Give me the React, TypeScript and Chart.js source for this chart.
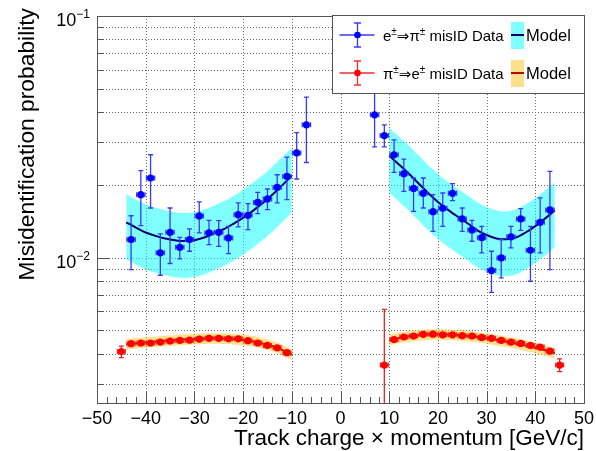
import React, { useEffect, useRef } from 'react';
import { Chart, registerables } from 'chart.js';
Chart.register(...registerables);

const FONT = '"Liberation Sans", Arimo, Helvetica, Arial, "DejaVu Sans", sans-serif';

// ---- blue: e -> pi misID data ----
const blueX = [-43, -41, -39, -37, -35, -33, -31, -29, -27, -25, -23, -21, -19, -17, -15, -13, -11, -9, -7,
  7, 9, 11, 13, 15, 17, 19, 21, 23, 25, 27, 29, 31, 33, 35, 37, 39, 41, 43];
const blueY = [0.01187, 0.01821, 0.02135, 0.01046, 0.01272, 0.01103, 0.01187, 0.01487, 0.01265, 0.01272, 0.01206, 0.01505, 0.01496, 0.01692, 0.01748, 0.01952, 0.02168, 0.0271, 0.03545,
  0.039, 0.032, 0.02664, 0.02224, 0.01933, 0.01844, 0.01549, 0.01599, 0.01844, 0.01445, 0.01302, 0.01209, 0.00884, 0.00997, 0.01218, 0.01445, 0.01072, 0.01399, 0.01575];
const blueLo = [0.00892, 0.01356, 0.01604, 0.00845, 0.00945, 0.00988, 0.01062, 0.01265, 0.01131, 0.01113, 0.01039, 0.01339, 0.01305, 0.0152, 0.01579, 0.01683, 0.01736, 0.02115, 0.02475,
  0.0287, 0.0287, 0.02253, 0.01879, 0.01553, 0.01604, 0.01284, 0.01347, 0.0172, 0.01284, 0.01168, 0.01046, 0.00717, 0.00824, 0.01097, 0.01297, 0.00798, 0.01046, 0.00892];
const blueHi = [0.0149, 0.0229, 0.02664, 0.01253, 0.01604, 0.01213, 0.01314, 0.01699, 0.01426, 0.01422, 0.01347, 0.01683, 0.01671, 0.01861, 0.01922, 0.02202, 0.02607, 0.03292, 0.04612,
  0.0481, 0.03545, 0.03073, 0.02558, 0.02135, 0.02135, 0.01821, 0.0185, 0.02022, 0.01604, 0.01426, 0.01347, 0.01062, 0.01187, 0.01347, 0.01594, 0.01347, 0.01765, 0.02275];

// ---- red: pi -> e misID data ----
const redX = [-45, -43, -41, -39, -37, -35, -33, -31, -29, -27, -25, -23, -21, -19, -17, -15, -13, -11,
  9, 11, 13, 15, 17, 19, 21, 23, 25, 27, 29, 31, 33, 35, 37, 39, 41, 43, 45];
const redY = [0.00408, 0.0044, 0.00443, 0.00443, 0.00447, 0.00451, 0.00454, 0.00455, 0.0046, 0.00463, 0.00463, 0.00461, 0.00461, 0.00453, 0.00443, 0.00433, 0.00423, 0.00404,
  0.00359, 0.00458, 0.00469, 0.00473, 0.00481, 0.00482, 0.00479, 0.00479, 0.00475, 0.00473, 0.00467, 0.00463, 0.00454, 0.00447, 0.00441, 0.00433, 0.00426, 0.0041, 0.00359];
const redLo = [0.00385, 0.00433, 0.00436, 0.00436, 0.0044, 0.00444, 0.00447, 0.00448, 0.00453, 0.00456, 0.00456, 0.00454, 0.00454, 0.00446, 0.00436, 0.00426, 0.00416, 0.00396,
  0.001, 0.00451, 0.00462, 0.00466, 0.00474, 0.00475, 0.00472, 0.00472, 0.00468, 0.00466, 0.0046, 0.00456, 0.00447, 0.0044, 0.00434, 0.00426, 0.00419, 0.00403, 0.00337];
const redHi = [0.0043, 0.00447, 0.0045, 0.0045, 0.00454, 0.00458, 0.00461, 0.00462, 0.00467, 0.0047, 0.0047, 0.00468, 0.00468, 0.0046, 0.0045, 0.0044, 0.0043, 0.00412,
  0.0061, 0.00465, 0.00476, 0.0048, 0.00488, 0.00489, 0.00486, 0.00486, 0.00482, 0.0048, 0.00474, 0.0047, 0.00461, 0.00454, 0.00448, 0.0044, 0.00433, 0.00417, 0.00381];

// ---- model curves ----
const modelXL = [-44, -42, -40, -38, -36, -34, -32, -30, -28, -26, -24, -22, -20, -18, -16, -14, -12, -10];
const modelXR = [10, 12, 14, 16, 18, 20, 22, 24, 26, 28, 30, 32, 34, 36, 38, 40, 42, 44];

const blueModelL = [0.014, 0.0133, 0.0127, 0.0123, 0.012, 0.0118, 0.0117, 0.0118, 0.0121, 0.0126, 0.0131, 0.0138, 0.0146, 0.0156, 0.0168, 0.0182, 0.0199, 0.0218];
const blueBandHiL = [0.0183, 0.0174, 0.0166, 0.0161, 0.0157, 0.0154, 0.0153, 0.0154, 0.0158, 0.0164, 0.0171, 0.018, 0.0191, 0.0204, 0.0219, 0.0238, 0.026, 0.0284];
const blueBandLoL = [0.00984, 0.00935, 0.00893, 0.00865, 0.00844, 0.0083, 0.00823, 0.0083, 0.00851, 0.00886, 0.00921, 0.0097, 0.01026, 0.01097, 0.01181, 0.01279, 0.01399, 0.01533];
const blueModelR = [0.0264, 0.0243, 0.0223, 0.0203, 0.0185, 0.017, 0.0158, 0.0148, 0.0139, 0.013, 0.0124, 0.012, 0.0119, 0.0121, 0.0127, 0.0135, 0.0145, 0.0157];
const blueBandHiR = [0.0345, 0.0317, 0.0291, 0.0265, 0.0241, 0.0222, 0.0206, 0.0193, 0.0181, 0.017, 0.0162, 0.0157, 0.0155, 0.0158, 0.0166, 0.0176, 0.0189, 0.0205];
const blueBandLoR = [0.01856, 0.01708, 0.01568, 0.01427, 0.01301, 0.01195, 0.01111, 0.0104, 0.00977, 0.00914, 0.00872, 0.00844, 0.00837, 0.00851, 0.00893, 0.00949, 0.01019, 0.01104];

const redModelL = [0.00438, 0.00442, 0.00445, 0.00448, 0.00452, 0.00455, 0.00458, 0.0046, 0.00462, 0.00463, 0.00462, 0.0046, 0.00456, 0.0045, 0.00441, 0.0043, 0.00415, 0.00396];
const redBandHiL = [0.0046, 0.00464, 0.00467, 0.0047, 0.00475, 0.00478, 0.00481, 0.00483, 0.00485, 0.00486, 0.00485, 0.00483, 0.00479, 0.00473, 0.00463, 0.00452, 0.00436, 0.00416];
const redBandLoL = [0.00416, 0.0042, 0.00423, 0.00426, 0.00429, 0.00432, 0.00435, 0.00437, 0.00439, 0.0044, 0.00439, 0.00437, 0.00433, 0.00428, 0.00419, 0.00409, 0.00394, 0.00376];
const redModelR = [0.00456, 0.00465, 0.00472, 0.00477, 0.0048, 0.00481, 0.0048, 0.00478, 0.00474, 0.00469, 0.00463, 0.00456, 0.00449, 0.00441, 0.00432, 0.00423, 0.00413, 0.00402];
const redBandHiR = [0.00479, 0.00488, 0.00496, 0.00501, 0.00504, 0.00505, 0.00504, 0.00502, 0.00498, 0.00492, 0.00486, 0.00479, 0.00471, 0.00463, 0.00454, 0.00444, 0.00434, 0.00422];
const redBandLoR = [0.00433, 0.00442, 0.00448, 0.00453, 0.00456, 0.00457, 0.00456, 0.00454, 0.0045, 0.00446, 0.0044, 0.00433, 0.00427, 0.00419, 0.0041, 0.00402, 0.00392, 0.00382];

// ---- axis ticks ----
const xMajorTicks = [-50, -40, -30, -20, -10, 0, 10, 20, 30, 40, 50];
const yGridValues = [0.003, 0.004, 0.005, 0.006, 0.007, 0.008, 0.009, 0.01, 0.02, 0.03, 0.04, 0.05, 0.06, 0.07, 0.08, 0.09];
const yMajorLabels = [{ v: 0.1, base: '10', exp: '\u22121' }, { v: 0.01, base: '10', exp: '\u22122' }];

const XTITLE = 'Track charge \u00d7 momentum [GeV/c]';
const YTITLE = 'Misidentification probability';

const BLUE = '#0000ff';
const BLUE_ERR = '#3a3af5';
const NAVY = '#00006e';
const RED = '#ff0000';
const DARKRED = '#c80000';
const CYAN = 'rgba(0,255,255,0.5)';
const ORANGE = 'rgba(249,194,24,0.5)';

type Seg = { t: string; sup?: boolean };

function drawRich(ctx: CanvasRenderingContext2D, segs: Seg[], x: number, y: number, size: number, align: 'left' | 'right' | 'center') {
  const supSize = Math.round(size * 0.68);
  const widths = segs.map(s => {
    ctx.font = `${s.sup ? supSize : size}px ${FONT}`;
    return ctx.measureText(s.t).width;
  });
  const total = widths.reduce((a, b) => a + b, 0);
  let cx = align === 'left' ? x : align === 'right' ? x - total : x - total / 2;
  ctx.textAlign = 'left';
  ctx.textBaseline = 'alphabetic';
  segs.forEach((s, i) => {
    ctx.font = `${s.sup ? supSize : size}px ${FONT}`;
    ctx.fillText(s.t, cx, s.sup ? y - size * 0.42 : y);
    cx += widths[i];
  });
}

const gridPlugin = {
  id: 'rootGrid',
  beforeDatasetsDraw(chart: any) {
    const { ctx, chartArea: a, scales } = chart;
    const xs = scales.x, ys = scales.y;
    ctx.save();
    ctx.strokeStyle = '#6a6a6a';
    ctx.lineWidth = 1;
    ctx.setLineDash([1, 2]);
    xMajorTicks.forEach(v => {
      if (v === -50 || v === 50) return;
      const px = Math.round(xs.getPixelForValue(v)) + 0.5;
      ctx.beginPath(); ctx.moveTo(px, a.top); ctx.lineTo(px, a.bottom); ctx.stroke();
    });
    yGridValues.forEach(v => {
      const py = Math.round(ys.getPixelForValue(v)) + 0.5;
      ctx.beginPath(); ctx.moveTo(a.left, py); ctx.lineTo(a.right, py); ctx.stroke();
    });
    ctx.restore();
  },
};

const errorBarPlugin = {
  id: 'errBars',
  beforeDatasetDraw(chart: any, args: any) {
    const ds = chart.data.datasets[args.index] as any;
    if (!ds.errLo) return;
    const { ctx, chartArea: a, scales } = chart;
    const xs = scales.x, ys = scales.y;
    ctx.save();
    ctx.beginPath();
    ctx.rect(a.left, a.top, a.right - a.left, a.bottom - a.top);
    ctx.clip();
    ctx.strokeStyle = ds.errColor;
    ctx.lineWidth = 1.3;
    ds.data.forEach((p: any, i: number) => {
      const px = xs.getPixelForValue(p.x);
      const py = ys.getPixelForValue(p.y);
      const lo = ys.getPixelForValue(ds.errLo[i]);
      const hi = ys.getPixelForValue(ds.errHi[i]);
      const xl = xs.getPixelForValue(p.x - ds.xErr);
      const xr = xs.getPixelForValue(p.x + ds.xErr);
      ctx.beginPath();
      ctx.moveTo(px, lo); ctx.lineTo(px, hi);
      ctx.moveTo(px - 2.5, lo); ctx.lineTo(px + 2.5, lo);
      ctx.moveTo(px - 2.5, hi); ctx.lineTo(px + 2.5, hi);
      ctx.moveTo(xl, py); ctx.lineTo(xr, py);
      ctx.moveTo(xl, py - 2.5); ctx.lineTo(xl, py + 2.5);
      ctx.moveTo(xr, py - 2.5); ctx.lineTo(xr, py + 2.5);
      ctx.stroke();
    });
    ctx.restore();
  },
};

function legendErr(ctx: CanvasRenderingContext2D, cx: number, cy: number, color: string, dot: string) {
  ctx.strokeStyle = color;
  ctx.lineWidth = 1.3;
  ctx.beginPath();
  ctx.moveTo(cx - 18, cy); ctx.lineTo(cx + 17, cy);
  ctx.moveTo(cx, cy - 12); ctx.lineTo(cx, cy + 12);
  ctx.moveTo(cx - 3.5, cy - 12); ctx.lineTo(cx + 3.5, cy - 12);
  ctx.moveTo(cx - 3.5, cy + 12); ctx.lineTo(cx + 3.5, cy + 12);
  ctx.stroke();
  ctx.fillStyle = dot;
  ctx.beginPath(); ctx.arc(cx, cy, 3.3, 0, Math.PI * 2); ctx.fill();
}

const axesPlugin = {
  id: 'rootAxes',
  afterDatasetsDraw(chart: any) {
    const { ctx, chartArea: a, scales } = chart;
    const xs = scales.x, ys = scales.y;
    ctx.save();
    // frame
    ctx.strokeStyle = '#555555';
    ctx.lineWidth = 1;
    ctx.setLineDash([]);
    ctx.strokeRect(Math.round(a.left) + 0.5, Math.round(a.top) + 0.5, Math.round(a.right - a.left), Math.round(a.bottom - a.top));
    // x ticks
    ctx.beginPath();
    for (let v = -50; v <= 50; v += 2) {
      const px = Math.round(xs.getPixelForValue(v)) + 0.5;
      const len = v % 10 === 0 ? 11 : 6;
      ctx.moveTo(px, a.bottom); ctx.lineTo(px, a.bottom - len);
    }
    // y ticks
    yGridValues.forEach(v => {
      const py = Math.round(ys.getPixelForValue(v)) + 0.5;
      const len = v === 0.01 ? 13 : 7;
      ctx.moveTo(a.left, py); ctx.lineTo(a.left + len, py);
    });
    ctx.stroke();

    ctx.fillStyle = '#000000';
    // x tick labels
    ctx.font = `18px ${FONT}`;
    ctx.textAlign = 'center';
    ctx.textBaseline = 'alphabetic';
    xMajorTicks.forEach(v => {
      const label = v < 0 ? '\u2212' + Math.abs(v) : String(v);
      ctx.fillText(label, xs.getPixelForValue(v), a.bottom + 21);
    });
    // y tick labels
    yMajorLabels.forEach(l => {
      const py = ys.getPixelForValue(l.v);
      drawRich(ctx, [{ t: l.base }, { t: l.exp, sup: true }], a.left - 7, py + 10, 18, 'right');
    });
    // x title
    ctx.font = `22.5px ${FONT}`;
    ctx.textAlign = 'right';
    ctx.fillText(XTITLE, a.right, 445);
    // y title
    ctx.save();
    ctx.translate(33.5, 8);
    ctx.rotate(-Math.PI / 2);
    ctx.textAlign = 'right';
    ctx.font = `22.8px ${FONT}`;
    ctx.fillText(YTITLE, 0, 0);
    ctx.restore();

    // legend
    const L = 332, T = 15, R = a.right, B = 93;
    ctx.fillStyle = '#ffffff';
    ctx.fillRect(L, T, R - L, B - T);
    ctx.strokeStyle = '#555555';
    ctx.lineWidth = 1;
    ctx.strokeRect(L + 0.5, T + 0.5, R - L, B - T);

    legendErr(ctx, 357.5, 35, BLUE_ERR, BLUE);
    legendErr(ctx, 357.5, 73, '#f03030', RED);
    ctx.fillStyle = '#000000';
    drawRich(ctx, [{ t: 'e' }, { t: '\u00b1', sup: true }, { t: '\u21d2\u03c0' }, { t: '\u00b1', sup: true }, { t: ' misID Data' }], 383, 41, 15, 'left');
    drawRich(ctx, [{ t: '\u03c0' }, { t: '\u00b1', sup: true }, { t: '\u21d2e' }, { t: '\u00b1', sup: true }, { t: ' misID Data' }], 383, 79, 15, 'left');

    ctx.fillStyle = '#80ffff';
    ctx.fillRect(511, 22, 13, 27);
    ctx.fillStyle = '#fce08b';
    ctx.fillRect(511, 60, 13, 27);
    ctx.lineWidth = 2;
    ctx.strokeStyle = NAVY;
    ctx.beginPath(); ctx.moveTo(511, 35); ctx.lineTo(524, 35); ctx.stroke();
    ctx.strokeStyle = DARKRED;
    ctx.beginPath(); ctx.moveTo(511, 73); ctx.lineTo(524, 73); ctx.stroke();
    ctx.fillStyle = '#000000';
    ctx.font = `16.5px ${FONT}`;
    ctx.textAlign = 'left';
    ctx.fillText('Model', 526, 41);
    ctx.fillText('Model', 526, 79);
    ctx.restore();
  },
};

const pts = (xs: number[], ys: number[]) => xs.map((x, i) => ({ x, y: ys[i] }));

function bandPair(xs: number[], lo: number[], hi: number[], color: string) {
  return [
    { data: pts(xs, lo), borderWidth: 0, pointRadius: 0, fill: false, order: 3, tension: 0.3 },
    { data: pts(xs, hi), borderWidth: 0, pointRadius: 0, fill: '-1', backgroundColor: color, order: 3, tension: 0.3 },
  ];
}

function modelLine(xs: number[], ys: number[], color: string) {
  return { data: pts(xs, ys), borderColor: color, borderWidth: 2, pointRadius: 0, fill: false, order: 2, tension: 0.3 };
}

export default function App() {
  const ref = useRef<HTMLCanvasElement>(null);
  useEffect(() => {
    if (!ref.current) return;
    const datasets: any[] = [
      ...bandPair(modelXL, blueBandLoL, blueBandHiL, CYAN),
      ...bandPair(modelXR, blueBandLoR, blueBandHiR, CYAN),
      ...bandPair(modelXL, redBandLoL, redBandHiL, ORANGE),
      ...bandPair(modelXR, redBandLoR, redBandHiR, ORANGE),
      modelLine(modelXL, blueModelL, NAVY),
      modelLine(modelXR, blueModelR, NAVY),
      modelLine(modelXL, redModelL, DARKRED),
      modelLine(modelXR, redModelR, DARKRED),
      {
        data: pts(blueX, blueY), showLine: false, pointRadius: 3.6, pointBackgroundColor: BLUE, pointBorderWidth: 0,
        order: 1, errLo: blueLo, errHi: blueHi, errColor: BLUE_ERR, xErr: 0.85,
      },
      {
        data: pts(redX, redY), showLine: false, pointRadius: 3.6, pointBackgroundColor: RED, pointBorderWidth: 0,
        order: 1, errLo: redLo, errHi: redHi, errColor: '#f02020', xErr: 0.8,
      },
    ];
    const chart = new Chart(ref.current, {
      type: 'line',
      data: { datasets },
      options: {
        animation: false,
        responsive: false,
        devicePixelRatio: 1,
        layout: { padding: { left: 97, right: 12, top: 16, bottom: 48 } },
        scales: {
          x: { type: 'linear', min: -50, max: 50, display: false },
          y: { type: 'logarithmic', min: 0.0025, max: 0.1, display: false },
        },
        plugins: { legend: { display: false }, tooltip: { enabled: false } },
      },
      plugins: [gridPlugin, errorBarPlugin, axesPlugin],
    } as any);
    return () => chart.destroy();
  }, []);
  return (
    <div style={{ position: 'fixed', left: 0, top: 0, width: 596, height: 451, background: '#ffffff' }}>
      <canvas ref={ref} width={596} height={451} style={{ display: 'block' }} />
    </div>
  );
}
